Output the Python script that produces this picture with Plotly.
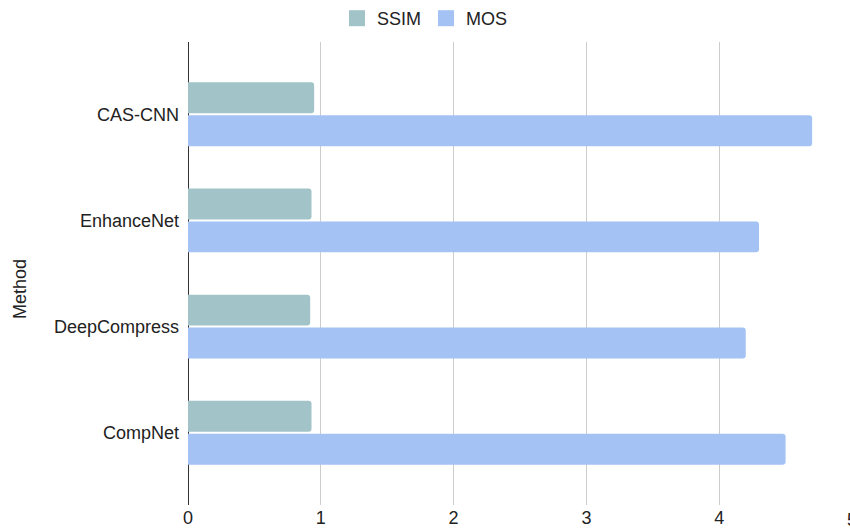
import plotly.graph_objects as go

methods = ["CAS-CNN", "EnhanceNet", "DeepCompress", "CompNet"]
ssim = [0.95, 0.93, 0.92, 0.93]
mos = [4.7, 4.3, 4.2, 4.5]
x_ticks = [0, 1, 2, 3, 4]
x_max = 4.985

FONT = "Liberation Sans, Arial, sans-serif"
COLORS = {"SSIM": "#a2c4c9", "MOS": "#a4c2f4"}

fig = go.Figure()
fig.add_trace(go.Bar(y=methods, x=ssim, name="SSIM", orientation="h", showlegend=False,
                     legendgroup="SSIM",
                     marker=dict(color=COLORS["SSIM"], line=dict(width=0))))
fig.add_trace(go.Bar(y=methods, x=mos, name="MOS", orientation="h", showlegend=False,
                     legendgroup="MOS",
                     marker=dict(color=COLORS["MOS"], line=dict(width=0))))
for name in ["SSIM", "MOS"]:
    fig.add_trace(go.Scatter(x=[None], y=[None], mode="markers", name=name,
                             legendgroup=name,
                             marker=dict(symbol="square", size=16, color=COLORS[name],
                                         line=dict(width=0))))

fig.update_layout(
    width=850, height=532,
    margin=dict(l=188, r=0, t=42, b=27),
    paper_bgcolor="white", plot_bgcolor="white",
    font=dict(family=FONT, size=18, color="#222"),
    barmode="group", bargap=0.38, bargroupgap=0.06, barcornerradius=3,
    legend=dict(orientation="h", x=0.5, xanchor="center", xref="container",
                y=1.0, yanchor="top", yref="container",
                font=dict(size=18, color="#222"), itemwidth=30),
    xaxis=dict(range=[0, x_max], tickvals=x_ticks, showgrid=True,
               gridcolor="#cccccc", gridwidth=1, zeroline=True,
               zerolinecolor="#333333", zerolinewidth=1,
               showline=False, ticks="", tickfont=dict(size=18, color="#222")),
    yaxis=dict(range=[3.68, -0.68], showgrid=False, zeroline=False,
               showline=False, ticks="", ticklabelstandoff=8,
               tickfont=dict(size=18, color="#222")),
)

fig.add_annotation(x=5 / x_max, xref="paper", y=0, yref="paper", yanchor="top",
                   xanchor="center", text="5", showarrow=False, yshift=-3,
                   font=dict(size=18, color="#222", family=FONT))

fig.add_annotation(x=-188 / 662, xref="paper", y=0.4665, yref="paper",
                   xanchor="left", yanchor="middle", xshift=8,
                   text="Method", textangle=-90, showarrow=False,
                   font=dict(size=18, color="#222", family=FONT))

fig.write_html("out.html")
